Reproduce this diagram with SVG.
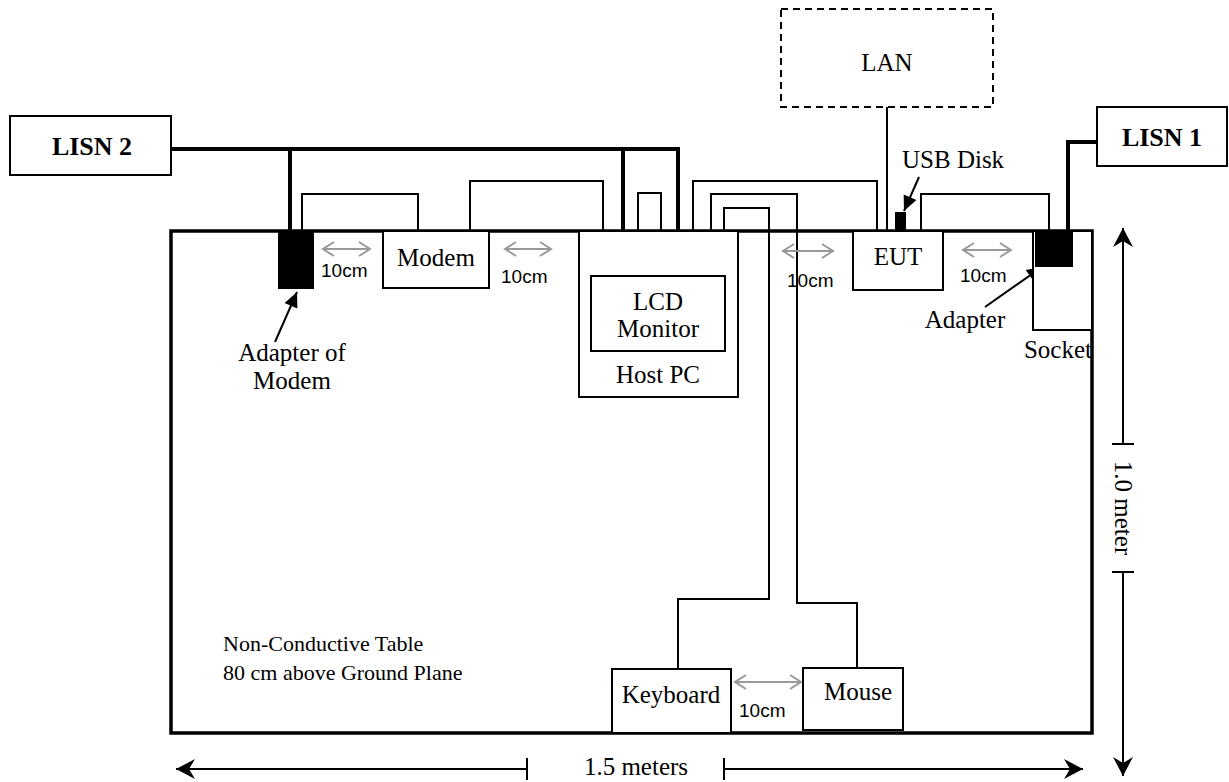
<svg xmlns="http://www.w3.org/2000/svg" width="1229" height="782" viewBox="0 0 1229 782">
<style>
  .t { font-family: "Liberation Serif", "Times New Roman", serif; font-size: 25px; fill: #000; }
  .tt { font-family: "Liberation Serif", "Times New Roman", serif; font-size: 22px; fill: #000; }
  .b { font-family: "Liberation Serif", "Times New Roman", serif; font-size: 26px; font-weight: bold; fill: #000; }
  .s { font-family: "Liberation Sans", Arial, sans-serif; font-size: 19px; fill: #000; }
  .box { fill: #fff; stroke: #000; stroke-width: 2; }
  .cable { fill: none; stroke: #000; stroke-width: 2; }
  .power { fill: none; stroke: #000; stroke-width: 4; }
  .gray { fill: none; stroke: #999; stroke-width: 2; }
  .dim { fill: none; stroke: #000; stroke-width: 2; }
  .blk { fill: #000; stroke: none; }
</style>
<defs>
  <marker id="dimhead" viewBox="-20 -12 22 24" markerWidth="22" markerHeight="24" refX="0" refY="0" orient="auto-start-reverse" markerUnits="userSpaceOnUse">
    <path d="M0,0 L-19,-10 L-13,0 L-19,10 Z" fill="#000"/>
  </marker>
  <marker id="grayhead" viewBox="-13 -9 15 18" markerWidth="15" markerHeight="18" refX="0" refY="0" orient="auto-start-reverse" markerUnits="userSpaceOnUse">
    <path d="M-11,-7 L0,0 L-11,7" fill="none" stroke="#999" stroke-width="2"/>
  </marker>
  <marker id="pointer" viewBox="-16 -8 18 16" markerWidth="18" markerHeight="16" refX="0" refY="0" orient="auto" markerUnits="userSpaceOnUse">
    <path d="M0,0 L-15,-7 L-15,7 Z" fill="#000"/>
  </marker>
</defs>

<!-- Table -->
<g id="table">
  <rect x="171" y="231" width="921" height="502" fill="#fff" stroke="#000" stroke-width="3.5"/>
  <text class="tt" x="223" y="651">Non-Conductive Table</text>
  <text class="tt" x="223" y="680">80 cm above Ground Plane</text>
</g>

<!-- Connectors -->
<g id="connectors">
  <!-- LISN 2 power -->
  <path class="power" d="M171,149 H678 V276"/>
  <path class="power" d="M290,149 V232"/>
  <path class="power" d="M623,149 V232"/>
  <!-- LISN 1 power -->
  <path class="power" d="M1097,142 H1068 V232"/>
  <!-- signal cables -->
  <path class="cable" d="M302,232 V194 H418 V231"/>
  <path class="cable" d="M470,231 V181 H603 V231"/>
  <path class="cable" d="M638,276 V193 H661 V231"/>
  <path class="cable" d="M693,231 V181 H877 V231"/>
  <path class="cable" d="M711,231 V194 H797 V603 H857 V668"/>
  <path class="cable" d="M724,231 V208 H769 V599 H678 V669"/>
  <path class="cable" d="M921,231 V194 H1049 V231"/>
  <path class="cable" d="M887,107 V231"/>
  <!-- spacing arrows -->
  <line class="gray" x1="323" y1="249" x2="370" y2="249" marker-start="url(#grayhead)" marker-end="url(#grayhead)"/>
  <line class="gray" x1="505" y1="249" x2="551" y2="249" marker-start="url(#grayhead)" marker-end="url(#grayhead)"/>
  <line class="gray" x1="783" y1="251" x2="833" y2="251" marker-start="url(#grayhead)" marker-end="url(#grayhead)"/>
  <line class="gray" x1="963" y1="250" x2="1011" y2="250" marker-start="url(#grayhead)" marker-end="url(#grayhead)"/>
  <line class="gray" x1="735" y1="682" x2="801" y2="682" marker-start="url(#grayhead)" marker-end="url(#grayhead)"/>
  <!-- pointer arrows -->
  <line class="dim" x1="275" y1="342" x2="297" y2="292" marker-end="url(#pointer)"/>
  <line class="dim" x1="919" y1="177" x2="904" y2="211" marker-end="url(#pointer)"/>
  <line class="dim" x1="985" y1="307" x2="1042" y2="267" marker-end="url(#pointer)"/>
  <!-- dimension lines -->
  <line class="dim" x1="527" y1="769" x2="176" y2="769" marker-end="url(#dimhead)"/>
  <line class="dim" x1="527" y1="758" x2="527" y2="780"/>
  <line class="dim" x1="724" y1="769" x2="1083" y2="769" marker-end="url(#dimhead)"/>
  <line class="dim" x1="724" y1="758" x2="724" y2="780"/>
  <line class="dim" x1="1123" y1="444" x2="1123" y2="228" marker-end="url(#dimhead)"/>
  <line class="dim" x1="1112" y1="444" x2="1134" y2="444"/>
  <line class="dim" x1="1123" y1="572" x2="1123" y2="776" marker-end="url(#dimhead)"/>
  <line class="dim" x1="1112" y1="572" x2="1134" y2="572"/>
</g>

<g id="spacing-labels">
  <text class="s" x="321" y="277">10cm</text>
  <text class="s" x="501" y="283">10cm</text>
  <text class="s" x="787" y="287">10cm</text>
  <text class="s" x="960" y="282">10cm</text>
  <text class="s" x="739" y="717">10cm</text>
  <text class="t" x="636" y="775" text-anchor="middle">1.5 meters</text>
  <text class="t" transform="translate(1115,508) rotate(90)" text-anchor="middle">1.0 meter</text>
</g>

<g id="lisn2">
  <rect class="box" x="10" y="116" width="161" height="59"/>
  <text class="b" x="92" y="155" text-anchor="middle">LISN 2</text>
</g>
<g id="lisn1">
  <rect class="box" x="1097" y="107" width="130" height="59"/>
  <text class="b" x="1162" y="146" text-anchor="middle">LISN 1</text>
</g>
<g id="lan">
  <rect x="781" y="9" width="212" height="98" fill="#fff" stroke="#000" stroke-width="2" stroke-dasharray="7,5"/>
  <text class="t" x="887" y="71" text-anchor="middle">LAN</text>
</g>
<g id="adapter-modem">
  <rect class="blk" x="278" y="231" width="36" height="58"/>
  <text class="t" x="292" y="361" text-anchor="middle">Adapter of</text>
  <text class="t" x="292" y="389" text-anchor="middle">Modem</text>
</g>
<g id="modem">
  <rect class="box" x="383" y="231" width="106" height="57"/>
  <text class="t" x="436" y="266" text-anchor="middle">Modem</text>
</g>
<g id="host-pc">
  <rect class="box" x="579" y="231" width="159" height="166"/>
  <text class="t" x="658" y="383" text-anchor="middle">Host PC</text>
</g>
<g id="lcd-monitor">
  <rect class="box" x="591" y="276" width="134" height="75"/>
  <text class="t" x="658" y="310" text-anchor="middle">LCD</text>
  <text class="t" x="658" y="337" text-anchor="middle">Monitor</text>
</g>
<g id="eut">
  <rect class="box" x="853" y="231" width="90" height="59"/>
  <text class="t" x="898" y="265" text-anchor="middle">EUT</text>
</g>
<g id="usb-disk">
  <rect class="blk" x="895" y="212" width="11" height="20"/>
  <text class="t" x="902" y="168">USB Disk</text>
</g>
<g id="socket">
  <rect class="box" x="1033" y="231" width="59" height="99"/>
  <text class="t" x="1058" y="358" text-anchor="middle">Socket</text>
</g>
<g id="adapter">
  <rect class="blk" x="1035" y="231" width="38" height="36"/>
  <text class="t" x="965" y="328" text-anchor="middle">Adapter</text>
</g>
<g id="keyboard">
  <rect class="box" x="612" y="669" width="119" height="64"/>
  <text class="t" x="671" y="703" text-anchor="middle">Keyboard</text>
</g>
<g id="mouse">
  <rect class="box" x="803" y="668" width="100" height="62"/>
  <text class="t" x="858" y="700" text-anchor="middle">Mouse</text>
</g>
</svg>
